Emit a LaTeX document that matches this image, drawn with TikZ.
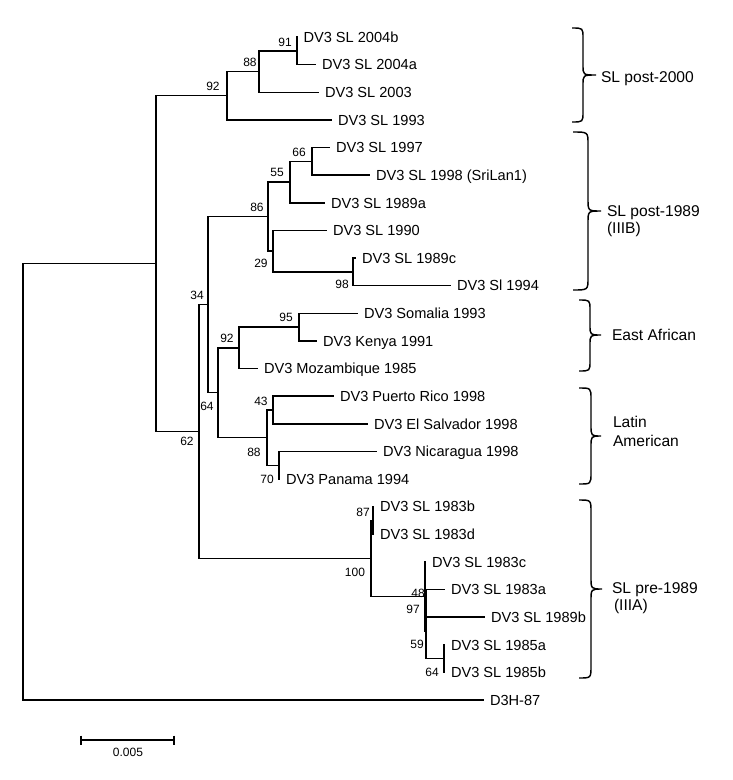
\documentclass[tikz,border=0pt]{standalone}
\usepackage{fontspec}
\setmainfont{Liberation Sans}
\newcommand\mybrace[7]{%
 \draw[brc] (#1,#4) .. controls (#2,#4) .. (#2,#4+#7) -- (#2,#6-#7) .. controls (#2,#6) .. (#3,#6) .. controls (#2,#6) .. (#2,#6+#7) -- (#2,#5-#7) .. controls (#2,#5) .. (#1,#5);}
\begin{document}
\begin{tikzpicture}[x=1pt,y=-1pt,
  br/.style={line width=1.45pt},
  brc/.style={line width=1.45pt},
  leaf/.style={anchor=west, inner xsep=6pt, inner ysep=0pt, outer sep=0pt, text height=10.5pt, text depth=0pt, font=\fontsize{14.6}{17}\selectfont},
  bs/.style={inner sep=0pt, font=\fontsize{12}{14}\selectfont},
  grp/.style={anchor=west, inner sep=0pt, outer sep=0pt, text height=11pt, text depth=0pt, font=\fontsize{15.6}{18}\selectfont}]
\useasboundingbox (0,0) rectangle (732,780);
% internal nodes
\coordinate (n91) at (297,50.8);
\coordinate (n88a) at (259,71.6);
\coordinate (n92a) at (227,95.7);
\coordinate (n66) at (312,161.4);
\coordinate (n55) at (290,182.1);
\coordinate (n98) at (353,271.9);
\coordinate (n29) at (273,251.1);
\coordinate (n86) at (268,216.6);
\coordinate (n95) at (299,327.1);
\coordinate (n92b) at (239,347.8);
\coordinate (n43) at (273,410);
\coordinate (n70) at (279,465.3);
\coordinate (n88b) at (267,437.6);
\coordinate (n64a) at (218,392.7);
\coordinate (n34) at (208,304.7);
\coordinate (n87) at (373,520.5);
\coordinate (n48) at (426,603.4);
\coordinate (n64b) at (444,658.7);
\coordinate (n59) at (426,631);
\coordinate (n97) at (425,596.5);
\coordinate (n100) at (371,558.5);
\coordinate (n62) at (199,431.6);
\coordinate (nx) at (156,263.7);
\coordinate (root) at (23,481.9);
% leaves
\node[leaf] (L0) at (297.5,37.0) {DV3 SL 2004b};
\node[leaf] (L1) at (316,64.6) {DV3 SL 2004a};
\node[leaf] (L2) at (319,92.3) {DV3 SL 2003};
\node[leaf] (L3) at (332,119.9) {DV3 SL 1993};
\node[leaf] (L4) at (330,147.5) {DV3 SL 1997};
\node[leaf] (L5) at (370,175.2) {DV3 SL 1998 (SriLan1)};
\node[leaf] (L6) at (325,202.8) {DV3 SL 1989a};
\node[leaf] (L7) at (327,230.4) {DV3 SL 1990};
\node[leaf] (L8) at (356,258.0) {DV3 SL 1989c};
\node[leaf] (L9) at (451,285.7) {DV3 Sl 1994};
\node[leaf] (L10) at (358,313.3) {DV3 Somalia 1993};
\node[leaf] (L11) at (317,340.9) {DV3 Kenya 1991};
\node[leaf] (L12) at (258,368.6) {DV3 Mozambique 1985};
\node[leaf] (L13) at (334,396.2) {DV3 Puerto Rico 1998};
\node[leaf] (L14) at (368,423.8) {DV3 El Salvador 1998};
\node[leaf] (L15) at (377,451.5) {DV3 Nicaragua 1998};
\node[leaf] (L16) at (280,479.1) {DV3 Panama 1994};
\node[leaf] (L17) at (374,506.7) {DV3 SL 1983b};
\node[leaf] (L18) at (374,534.3) {DV3 SL 1983d};
\node[leaf] (L19) at (426,562.0) {DV3 SL 1983c};
\node[leaf] (L20) at (445,589.6) {DV3 SL 1983a};
\node[leaf] (L21) at (485,617.2) {DV3 SL 1989b};
\node[leaf] (L22) at (445,644.9) {DV3 SL 1985a};
\node[leaf] (L23) at (445,672.5) {DV3 SL 1985b};
\node[leaf] (L24) at (484,700.1) {D3H-87};
% branches
\draw[br] (n91) |- (L0.west);
\draw[br] (n91) |- (L1.west);
\draw[br] (n88a) |- (n91);
\draw[br] (n88a) |- (L2.west);
\draw[br] (n92a) |- (n88a);
\draw[br] (n92a) |- (L3.west);
\draw[br] (n66) |- (L4.west);
\draw[br] (n66) |- (L5.west);
\draw[br] (n55) |- (n66);
\draw[br] (n55) |- (L6.west);
\draw[br] (n98) |- (L8.west);
\draw[br] (n98) |- (L9.west);
\draw[br] (n29) |- (L7.west);
\draw[br] (n29) |- (n98);
\draw[br] (n86) |- (n55);
\draw[br] (n86) |- (n29);
\draw[br] (n95) |- (L10.west);
\draw[br] (n95) |- (L11.west);
\draw[br] (n92b) |- (n95);
\draw[br] (n92b) |- (L12.west);
\draw[br] (n43) |- (L13.west);
\draw[br] (n43) |- (L14.west);
\draw[br] (n70) |- (L15.west);
\draw[br] (n70) |- (L16.west);
\draw[br] (n88b) |- (n43);
\draw[br] (n88b) |- (n70);
\draw[br] (n64a) |- (n92b);
\draw[br] (n64a) |- (n88b);
\draw[br] (n34) |- (n86);
\draw[br] (n34) |- (n64a);
\draw[br] (n87) |- (L17.west);
\draw[br] (n87) |- (L18.west);
\draw[br] (n48) |- (L20.west);
\draw[br] (n48) |- (L21.west);
\draw[br] (n64b) |- (L22.west);
\draw[br] (n64b) |- (L23.west);
\draw[br] (n59) |- (n48);
\draw[br] (n59) |- (n64b);
\draw[br] (n97) |- (L19.west);
\draw[br] (n97) |- (n59);
\draw[br] (n100) |- (n87);
\draw[br] (n100) |- (n97);
\draw[br] (n62) |- (n34);
\draw[br] (n62) |- (n100);
\draw[br] (nx) |- (n92a);
\draw[br] (nx) |- (n62);
\draw[br] (root) |- (nx);
\draw[br] (root) |- (L24.west);
% bootstrap values
\node[bs] (b91) at (285,42) {91};
\node[bs] (b88a) at (250,62) {88};
\node[bs] (b92a) at (213,86) {92};
\node[bs] (b66) at (299,152) {66};
\node[bs] (b55) at (277,172) {55};
\node[bs] (b86) at (257,207) {86};
\node[bs] (b29) at (261,263) {29};
\node[bs] (b98) at (342,284) {98};
\node[bs] (b34) at (197,295) {34};
\node[bs] (b95) at (286,317) {95};
\node[bs] (b92b) at (227,338) {92};
\node[bs] (b64a) at (207,406) {64};
\node[bs] (b43) at (261,401) {43};
\node[bs] (b88b) at (254,452) {88};
\node[bs] (b70) at (267,479) {70};
\node[bs] (b62) at (187,441) {62};
\node[bs] (b87) at (363,512) {87};
\node[bs] (b100) at (355,572) {100};
\node[bs] (b48) at (418,593) {48};
\node[bs] (b97) at (413,609) {97};
\node[bs] (b59) at (417,644) {59};
\node[bs] (b64b) at (432,672) {64};
% scale bar
\coordinate (s0) at (81,740);
\coordinate (s1) at (174,740);
\draw[br] (s0) -- (s1);
\draw[br] ([yshift=4.5pt]s0) -- ([yshift=-4.5pt]s0);
\draw[br] ([yshift=4.5pt]s1) -- ([yshift=-4.5pt]s1);
\node[bs] (sl) at (128,752) {0.005};
% group braces
\mybrace{572}{583}{596}{28}{122}{75}{10}
\mybrace{573}{588}{601}{132}{290}{211}{12}
\mybrace{579}{590}{601}{300}{371}{335}{10}
\mybrace{579}{591}{601}{388}{484}{436}{11}
\mybrace{579}{591}{602}{500}{678}{589}{12}
\node[grp] (g1) at (601,77) {SL post-2000};
\node[grp] (g2a) at (607,211) {SL post-1989};
\node[grp] (g2b) at (607,228) {(IIIB)};
\node[grp] (g3) at (612,335) {East African};
\node[grp] (g4a) at (613,422) {Latin};
\node[grp] (g4b) at (613,441) {American};
\node[grp] (g5a) at (612,588) {SL pre-1989};
\node[grp] (g5b) at (614,605) {(IIIA)};
\end{tikzpicture}
\end{document}
